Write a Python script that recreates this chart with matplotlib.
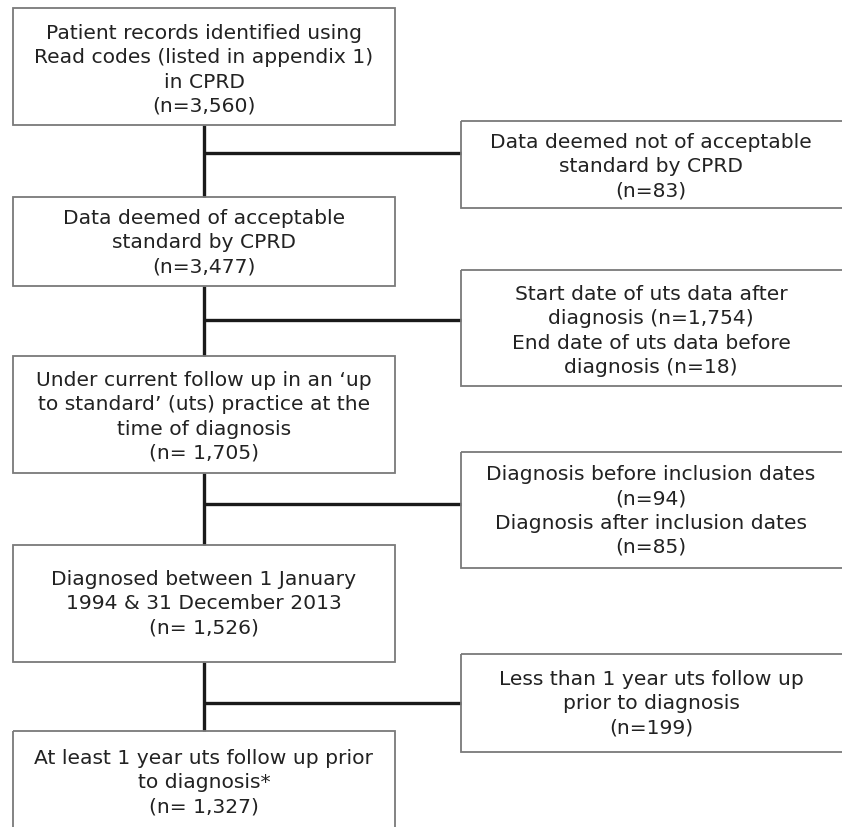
import matplotlib
matplotlib.use("Agg")
import matplotlib.pyplot as plt
from matplotlib.patches import Rectangle

#box texts down the main path of the flowchart
main_labels = [
    "Patient records identified using\nRead codes (listed in appendix 1)\nin CPRD\n(n=3,560)",
    "Data deemed of acceptable\nstandard by CPRD\n(n=3,477)",
    "Under current follow up in an \u2018up\nto standard\u2019 (uts) practice at the\ntime of diagnosis\n(n= 1,705)",
    "Diagnosed between 1 January\n1994 & 31 December 2013\n(n= 1,526)",
    "At least 1 year uts follow up prior\nto diagnosis*\n(n= 1,327)",
]

#exclusion boxes on the right
excl_labels = [
    "Data deemed not of acceptable\nstandard by CPRD\n(n=83)",
    "Start date of uts data after\ndiagnosis (n=1,754)\nEnd date of uts data before\ndiagnosis (n=18)",
    "Diagnosis before inclusion dates\n(n=94)\nDiagnosis after inclusion dates\n(n=85)",
    "Less than 1 year uts follow up\nprior to diagnosis\n(n=199)",
]

#layout in pixels (top, bottom, text centre)
main_x = (13, 395)
main_y = [(9, 126, 70), (198, 287, 243), (357, 474, 417), (546, 663, 604), (732, 850, 783)]
excl_x = (461, 845)
excl_y = [(122, 209, 167), (271, 387, 331), (453, 569, 511), (655, 753, 704)]
branch_y = [154, 321, 505, 704]
stem_x = 204

fig = plt.figure(figsize=(8.42, 8.28), dpi=100)
ax = fig.add_axes([0, 0, 1, 1])
ax.set_xlim(0, 842)
ax.set_ylim(828, 0)
ax.axis("off")

box_col = "#7a7a7a"
line_col = "#1a1a1a"
fs = 14.6

def box(x0, x1, y0, y1, yc, xc, text):
    ax.add_patch(Rectangle((x0, y0), x1 - x0, y1 - y0, fill=False,
                           edgecolor=box_col, linewidth=1.3, zorder=2))
    ax.text(xc, yc, text, ha="center", va="center",
            fontsize=fs, color="#222222", linespacing=1.34, zorder=3)

for lab, (y0, y1, yc) in zip(main_labels, main_y):
    box(main_x[0], main_x[1], y0, y1, yc, 204, lab)

for lab, (y0, y1, yc) in zip(excl_labels, excl_y):
    box(excl_x[0], excl_x[1], y0, y1, yc, 651, lab)

#connectors: vertical stems between main boxes, horizontal branches to exclusions
for i in range(len(main_y) - 1):
    ax.plot([stem_x, stem_x], [main_y[i][1], main_y[i + 1][0]], color=line_col, lw=2.4,
            solid_capstyle="butt", zorder=1)
for by in branch_y:
    ax.plot([stem_x, excl_x[0]], [by, by], color=line_col, lw=2.4,
            solid_capstyle="butt", zorder=1)

fig.savefig("out.png", dpi=100)
plt.close(fig)
